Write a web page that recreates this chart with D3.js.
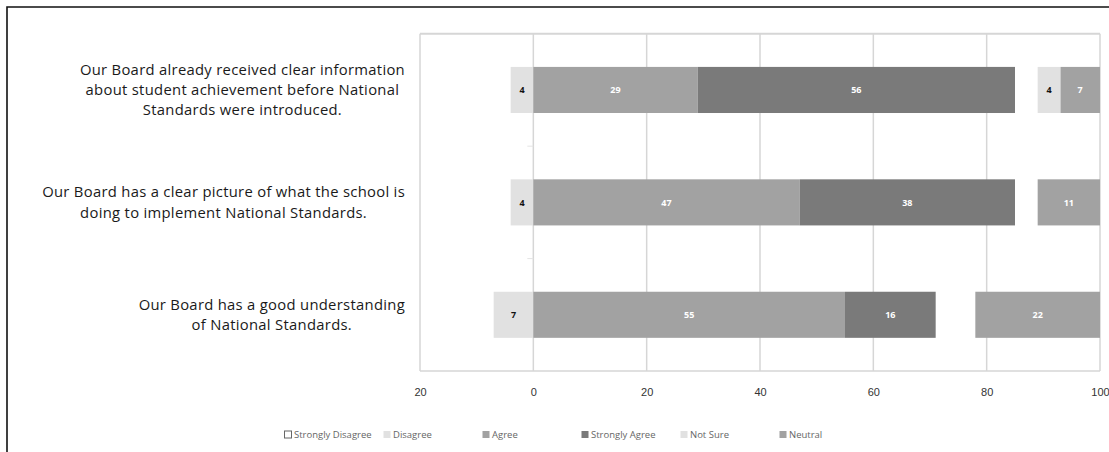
<!DOCTYPE html>
<html>
<head>
<meta charset="utf-8">
<script src="https://cdn.jsdelivr.net/npm/d3@7"></script>
<style>
  body { margin: 0; background: #fff; }
  svg { display: block; font-family: 'Open Sans', sans-serif; }
</style>
</head>
<body>
<div id="chart"></div>
<script>
const categories = [
    ['Our Board already received clear information', 'about student achievement before National', 'Standards were introduced.'],
    ['Our Board has a clear picture of what the school is', 'doing to implement National Standards.'],
    ['Our Board has a good understanding', 'of National Standards.']
]
const seriesNames = ['Strongly Disagree', 'Disagree', 'Agree', 'Strongly Agree', 'Not Sure', 'Neutral']
const stronglyDisagree = [0, 0, 0]
const disagree = [4, 4, 7]
const agree = [29, 47, 55]
const stronglyAgree = [56, 38, 16]
const notSure = [4, 0, 0]
const neutral = [7, 11, 22]
const tickValues = [-20, 0, 20, 40, 60, 80, 100]

const colors = {
    'Strongly Disagree': '#ffffff',
    'Disagree': '#e1e1e1',
    'Agree': '#a2a2a2',
    'Strongly Agree': '#7a7a7a',
    'Not Sure': '#e1e1e1',
    'Neutral': '#a2a2a2'
}
const darkText = ['Strongly Disagree', 'Disagree', 'Not Sure']

const width = 1109
const height = 452
const plot = { left: 420, right: 1100, top: 33.75, bottom: 371 }

const svg = d3.select('#chart')
    .append('svg')
        .attr('width', width)
        .attr('height', height)

svg.append('rect')
    .attr('width', width)
    .attr('height', height)
    .attr('fill', '#fff')

// outer frame (cropped on right and bottom)
svg.append('path')
    .attr('d', `M7,${height + 2} L7,7 L${width + 2},7`)
    .attr('fill', 'none')
    .attr('stroke', '#111')
    .attr('stroke-width', 1.6)

const x = d3.scaleLinear()
    .domain([-20, 100])
    .range([plot.left, plot.right])

const y = d3.scaleBand()
    .domain(d3.range(categories.length))
    .range([plot.top, plot.bottom])
    .paddingInner(0.59)
    .paddingOuter(0.295)

// grid
svg.append('g')
    .selectAll('line')
    .data(tickValues)
    .enter()
    .append('line')
        .attr('x1', d => x(d))
        .attr('x2', d => x(d))
        .attr('y1', plot.top)
        .attr('y2', plot.bottom)
        .attr('stroke', '#d6d6d6')
        .attr('stroke-width', 1.5)

svg.append('line')
    .attr('x1', plot.left).attr('x2', plot.right)
    .attr('y1', plot.top).attr('y2', plot.top)
    .attr('stroke', '#d6d6d6').attr('stroke-width', 2)

svg.append('line')
    .attr('x1', plot.left).attr('x2', plot.right)
    .attr('y1', plot.bottom).attr('y2', plot.bottom)
    .attr('stroke', '#d6d6d6').attr('stroke-width', 1.5)

// small category ticks on zero line
const boundaries = d3.range(1, categories.length).map(i => y(i) - y.step() * y.paddingInner() / 2)
svg.append('g')
    .selectAll('line')
    .data(boundaries)
    .enter()
    .append('line')
        .attr('x1', x(0) - 6)
        .attr('x2', x(0))
        .attr('y1', d => d)
        .attr('y2', d => d)
        .attr('stroke', '#e4e4e4')

// x axis
const xAxis = svg.append('g')
    .attr('transform', `translate(0, ${plot.bottom + 14})`)
    .call(d3.axisBottom(x).tickValues(tickValues).tickSize(0).tickFormat(d => Math.abs(d)))
xAxis.select('.domain').remove()
xAxis.selectAll('text')
    .attr('fill', '#333')
    .style('font-size', '11px')

// build segments
const values = {
    'Strongly Disagree': stronglyDisagree,
    'Disagree': disagree,
    'Agree': agree,
    'Strongly Agree': stronglyAgree,
    'Not Sure': notSure,
    'Neutral': neutral
}

const segments = []
categories.forEach((c, i) => {
    let neg = 0
    ;['Disagree', 'Strongly Disagree'].forEach(s => {
        const v = values[s][i]
        segments.push({ i, s, v, x0: -neg - v, x1: -neg })
        neg += v
    })
    let pos = 0
    ;['Agree', 'Strongly Agree'].forEach(s => {
        const v = values[s][i]
        segments.push({ i, s, v, x0: pos, x1: pos + v })
        pos += v
    })
    let end = 100
    ;['Neutral', 'Not Sure'].forEach(s => {
        const v = values[s][i]
        segments.push({ i, s, v, x0: end - v, x1: end })
        end -= v
    })
})
const shown = segments.filter(d => d.v > 0)

svg.append('g')
    .selectAll('rect')
    .data(shown)
    .enter()
    .append('rect')
        .attr('x', d => x(d.x0))
        .attr('y', d => y(d.i))
        .attr('width', d => x(d.x1) - x(d.x0))
        .attr('height', y.bandwidth())
        .attr('fill', d => colors[d.s])

svg.append('g')
    .selectAll('text')
    .data(shown)
    .enter()
    .append('text')
        .attr('x', d => x((d.x0 + d.x1) / 2))
        .attr('y', d => y(d.i) + y.bandwidth() / 2)
        .attr('dy', '0.35em')
        .attr('text-anchor', 'middle')
        .attr('fill', d => darkText.includes(d.s) ? '#111' : '#fff')
        .style('font-size', '9px')
        .style('font-weight', 'bold')
        .text(d => d.v)

// category labels: one text per line, block centred, right edge at 405
const lh = 20.3
const labelGroups = svg.append('g')
    .selectAll('g')
    .data(categories)
    .enter()
    .append('g')

labelGroups.each(function (lines, i) {
    const cy = y(i) + y.bandwidth() / 2
    const top = cy - (lines.length - 1) * lh / 2
    const g = d3.select(this)
    lines.forEach((line, k) => {
        g.append('text')
            .attr('x', 0)
            .attr('y', top + k * lh)
            .attr('dy', '0.35em')
            .attr('text-anchor', 'middle')
            .attr('fill', '#1a1a1a')
            .style('font-size', '14.8px')
            .style('letter-spacing', '0.3px')
            .text(line)
    })
    const w = this.getBBox().width
    g.attr('transform', `translate(${405 - w / 2}, 0)`)
})

// legend
const legend = svg.append('g')
    .selectAll('g')
    .data(seriesNames)
    .enter()
    .append('g')
        .attr('transform', (d, i) => `translate(${284 + i * 99}, 435)`)

legend.append('rect')
    .attr('x', 0.5)
    .attr('y', -4)
    .attr('width', 7)
    .attr('height', 7)
    .attr('fill', d => d === 'Strongly Disagree' ? '#fff' : colors[d])
    .attr('stroke', d => d === 'Strongly Disagree' ? '#666' : 'none')

legend.append('text')
    .attr('x', 10)
    .attr('dy', '0.32em')
    .attr('fill', '#666')
    .style('font-size', '9.5px')
    .text(d => d)
</script>
</body>
</html>
